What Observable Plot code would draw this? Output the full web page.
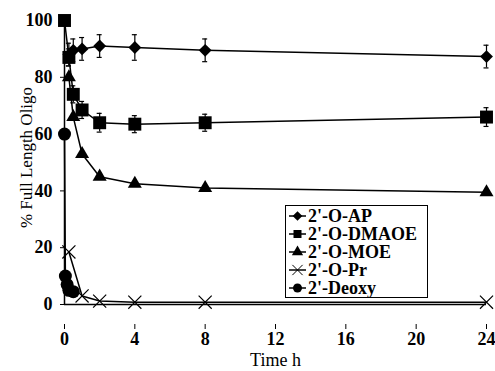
<!DOCTYPE html>
<html>
<head>
<meta charset="utf-8">
<script src="https://cdn.jsdelivr.net/npm/d3@7"></script>
<script src="https://cdn.jsdelivr.net/npm/@observablehq/plot@0.6"></script>
<style>
  body { margin: 0; background: #fff; }
  #wrap { position: relative; width: 495px; height: 371px; font-family: "Liberation Serif", "Times New Roman", serif; }
  #legend { position: absolute; left: 285px; top: 205px; width: 143px; height: 93px; border: 1px solid #000; background: #fff; box-sizing: border-box; padding-top: 1px; }
  .row { position: relative; height: 17.9px; font-weight: bold; font-size: 18px; white-space: nowrap; }
  .row svg { position: absolute; left: 2px; top: 2px; }
  .row span { position: absolute; left: 22px; top: 1px; line-height: 16px; height: 16px; }
</style>
</head>
<body>
<div id="wrap"><div id="legend"></div></div>
<script>
// ---- data ----
const seriesNames = ["2'-O-AP", "2'-O-DMAOE", "2'-O-MOE", "2'-O-Pr", "2'-Deoxy"];
const seriesSymbols = ["diamond2", "square", "triangle", "times", "circle"];

const timeAP  = [0.25, 0.5, 1, 2, 4, 8, 24];
const valueAP = [88, 89.5, 90, 91, 90.5, 89.5, 87.3];
const errAP   = [4, 4, 4, 4, 4.5, 4, 4];

const timeDMAOE  = [0, 0.25, 0.5, 1, 2, 4, 8, 24];
const valueDMAOE = [100, 87, 74, 68.5, 64, 63.5, 64, 66];
const errDMAOE   = [0, 3, 3, 3, 3.3, 3, 3, 3.3];

const timeMOE  = [0.25, 0.5, 1, 2, 4, 8, 24];
const valueMOE = [80, 66, 53, 45, 42.5, 41, 39.5];

const timePr  = [0.25, 1, 2, 4, 8, 24];
const valuePr = [18.5, 3, 1.2, 0.8, 0.8, 0.8];

const timeDeoxy  = [0, 0.05, 0.15, 0.25, 0.5];
const valueDeoxy = [60, 10, 7, 5, 4.5];

const xTicks = [0, 4, 8, 12, 16, 20, 24];
const yTicks = [0, 20, 40, 60, 80, 100];

// ---- build table ----
function rows(name, ts, vs, es) {
  return ts.map((t, i) => ({series: name, t, v: vs[i], e: es ? es[i] : 0}));
}
const all = [
  ...rows(seriesNames[0], timeAP, valueAP, errAP),
  ...rows(seriesNames[1], timeDMAOE, valueDMAOE, errDMAOE),
  ...rows(seriesNames[2], timeMOE, valueMOE),
  ...rows(seriesNames[3], timePr, valuePr),
  ...rows(seriesNames[4], timeDeoxy, valueDeoxy)
];
const errRows = all.filter(d => d.e > 0);
const symR = {"diamond2": 5.8, "square": 7.3, "triangle": 5.2, "times": 6, "circle": 6.5};

const marks = [
  Plot.ruleX([0], {y1: 0, y2: 100, stroke: "#000", strokeWidth: 1.5}),
  Plot.ruleY([0], {stroke: "#000", strokeWidth: 1.5}),
  Plot.axisY({ticks: yTicks, tickSize: 4, tickPadding: 8, fontSize: 18, fontWeight: "bold", label: null, tickFormat: d => d}),
  Plot.axisX({ticks: xTicks, tickSize: 5, tickPadding: 3, dy: 20, fontSize: 18, fontWeight: "bold", label: null, tickFormat: d => d}),
  Plot.text(["Time h"], {frameAnchor: "bottom", lineAnchor: "middle", dy: 56, fontSize: 18, fill: "#000"}),
  Plot.text(["% Full Length Oligo"], {frameAnchor: "left", textAnchor: "middle", lineAnchor: "middle", dx: -38, dy: -5, rotate: -90, fontSize: 17, fill: "#000"}),
  Plot.line(all, {x: "t", y: "v", z: "series", stroke: "#000", strokeWidth: 1.5}),
  Plot.ruleX(errRows, {x: "t", y1: d => d.v - d.e, y2: d => d.v + d.e, stroke: "#000", strokeWidth: 1.2}),
  Plot.ruleY(errRows, {y: d => d.v + d.e, x1: "t", x2: "t", insetLeft: -2.5, insetRight: -2.5, stroke: "#000", strokeWidth: 1.2}),
  Plot.ruleY(errRows, {y: d => d.v - d.e, x1: "t", x2: "t", insetLeft: -2.5, insetRight: -2.5, stroke: "#000", strokeWidth: 1.2})
];
seriesNames.forEach((name, i) => {
  const sym = seriesSymbols[i];
  const data = all.filter(d => d.series === name);
  if (sym === "times") {
    marks.push(Plot.dot(data, {x: "t", y: "v", symbol: sym, r: symR[sym], stroke: "#000", strokeWidth: 1.2, fill: "none"}));
  } else {
    marks.push(Plot.dot(data, {x: "t", y: "v", symbol: sym, r: symR[sym], fill: "#000", stroke: "none"}));
  }
});

const chart = Plot.plot({
  width: 495,
  height: 371,
  marginLeft: 64,
  marginRight: 9,
  marginTop: 20,
  marginBottom: 67,
  style: {fontFamily: "Liberation Serif, Times New Roman, serif", color: "#000", background: "#fff"},
  x: {domain: [0, 24]},
  y: {domain: [0, 100]},
  marks
});
document.getElementById("wrap").prepend(chart);

// ---- legend ----
const legend = d3.select("#legend");
const symMap = {"diamond2": d3.symbolDiamond2, "square": d3.symbolSquare, "triangle": d3.symbolTriangle, "times": d3.symbolTimes, "circle": d3.symbolCircle};
const symSize = {"diamond2": 60, "square": 64, "triangle": 55, "times": 70, "circle": 64};
seriesNames.forEach((name, i) => {
  const sym = seriesSymbols[i];
  const row = legend.append("div").attr("class", "row");
  const svg = row.append("svg").attr("width", 19).attr("height", 14);
  svg.append("line").attr("x1", 1).attr("x2", 18).attr("y1", 7).attr("y2", 7).attr("stroke", "#000").attr("stroke-width", 1.5);
  svg.append("path").attr("transform", "translate(9.5,7)")
    .attr("d", d3.symbol(symMap[sym], symSize[sym])())
    .attr("fill", sym === "times" ? "none" : "#000")
    .attr("stroke", sym === "times" ? "#000" : "none");
  row.append("span").text(name);
});
</script>
</body>
</html>
